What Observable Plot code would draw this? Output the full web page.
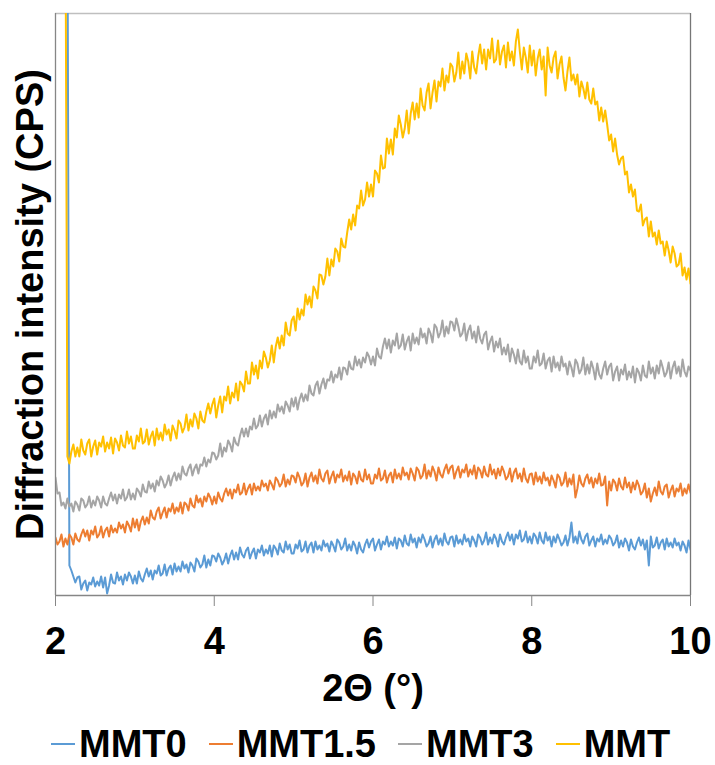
<!DOCTYPE html>
<html>
<head>
<meta charset="utf-8">
<script src="https://cdn.jsdelivr.net/npm/d3@7"></script>
<script src="https://cdn.jsdelivr.net/npm/@observablehq/plot@0.6"></script>
<style>
  html, body { margin: 0; padding: 0; background: #fff; overflow: hidden; }
  #wrap { position: relative; width: 715px; height: 765px; }
  #legend { position: absolute; left: 0; top: 728px; width: 715px; height: 37px;
    display: flex; gap: 22px; padding-left: 51px; box-sizing: border-box;
    font: bold 38px "Liberation Sans", Arial, sans-serif; line-height: 32px; color: #000; }
  .item { display: flex; align-items: center; gap: 4px; white-space: nowrap; height: 32px; }
  .sw { width: 24px; height: 2px; }
</style>
</head>
<body>
<div id="wrap"><div id="chart"></div><div id="legend"></div></div>
<script>
// 2θ grid of the scan: starts at 2°, one reading every 0.025°
const xStart = 2;
const xStep = 0.025;
const xTicks = [2, 4, 6, 8, 10];

const seriesNames = ["MMT0", "MMT1.5", "MMT3", "MMT"];
const seriesColors = ["#5B9BD5", "#ED7D31", "#A5A5A5", "#FFC000"];

// Intensities (arbitrary CPS units, 0 = bottom axis, 582 = top of frame);
// 700 marks the direct-beam rise that runs off the top of the chart. 20 readings per 0.5°.
const mmt0 = [
  700,700,700,700,700,700,700,30,25,19, 13,18,19,6,12,15,5,13,11,18,
  9,14,10,19,8,18,2,10,21,13, 12,23,15,19,11,21,15,23,19,12,
  20,12,24,17,14,21,27,19,25,16, 25,22,30,20,22,31,20,27,30,21,
  32,24,29,24,34,27,31,23,33,30, 24,37,34,28,31,40,28,36,30,40,
  39,34,42,38,31,35,42,32,40,45, 36,43,36,48,41,38,45,48,37,43,
  47,37,46,43,50,40,46,42,50,39, 50,47,41,52,45,43,54,46,51,42,
  42,51,47,55,44,46,54,43,50,53, 43,54,46,50,45,55,49,52,44,54,
  50,44,56,53,46,49,57,45,51,45, 54,50,42,53,46,43,51,56,48,54,
  57,45,51,56,46,54,51,59,49,54, 50,58,47,57,55,49,60,52,50,61,
  53,57,48,58,53,61,56,49,52,59, 48,56,60,51,57,50,62,54,51,58,
  59,49,60,52,56,51,61,54,57,49, 59,55,49,61,58,51,55,63,51,58,
  52,61,57,49,61,54,51,58,63,55, 61,51,61,57,65,54,56,64,53,59,
  52,62,59,52,63,55,52,63,55,59, 49,59,53,61,56,50,53,60,50,58,
  73,53,59,52,64,56,52,59,62,50, 55,59,49,57,54,61,51,56,52,60,
  57,50,53,60,48,55,49,57,53,45, 56,49,46,53,58,50,56,46,55,30,
  59,48,50,58,47,53,56,46,57,49, 53,48,57,50,53,45,54,50,43,55,
  46];

const mmt15 = [
  58,51,54,61,49,57,51,61,58,51, 62,56,54,61,66,59,65,55,65,61,
  69,58,61,69,58,65,68,59,70,63, 67,63,73,67,71,63,74,70,64,77,
  68,76,65,74,79,71,78,72,85,78, 76,84,88,77,83,88,78,87,84,92,
  82,88,84,93,82,93,91,85,97,90, 88,100,93,97,89,99,94,102,98,91,
  99,92,103,97,94,102,107,100,106,97, 106,103,111,101,103,112,101,107,111,101,
  112,105,109,105,115,109,112,105,115,111, 106,118,115,109,112,121,109,116,111,120,
  119,113,123,118,110,113,122,109,118,123, 114,120,112,126,117,114,122,125,112,119,
  124,113,121,118,126,114,120,115,124,111, 122,119,112,124,116,114,126,116,121,112,
  112,121,117,127,115,117,125,113,120,123, 113,126,117,122,116,128,120,123,116,127,
  122,115,128,125,117,120,131,117,125,119, 129,124,115,128,121,118,126,131,122,128,
  130,117,124,129,118,126,123,131,119,126, 121,130,117,128,125,118,129,121,119,131,
  121,126,117,127,120,129,124,116,119,127, 114,123,127,117,122,114,127,117,113,121,
  122,111,123,114,119,112,123,115,118,110, 120,115,108,121,118,110,113,123,109,117,
  111,121,98,107,120,112,109,117,121,112, 118,108,117,112,122,110,111,119,90,114,
  105,116,113,105,117,109,106,118,108,113, 103,113,106,115,110,101,104,112,98,107,
  94,102,108,100,114,104,101,109,111,98, 105,110,99,107,104,112,100,107,102,111,
  103];

const mmt3 = [
  118,102,103,90,93,87,97,89,92,84, 94,91,85,97,95,88,91,99,88,95,
  90,99,95,88,99,92,90,97,103,95, 101,92,101,97,106,95,98,106,96,102,
  96,107,104,99,111,104,103,114,107,112, 104,115,110,119,115,108,112,120,110,118,
  123,115,122,116,129,122,120,127,131,120, 127,131,122,131,130,138,129,136,133,143,
  142,136,140,152,139,148,144,155,151,144, 158,152,150,160,167,159,167,159,169,166,
  177,167,170,180,169,177,181,171,185,177, 184,178,191,184,189,182,194,190,184,197,
  189,198,186,196,202,194,201,195,210,202, 200,210,214,202,211,217,207,216,215,224,
  213,221,218,228,216,228,227,221,234,227, 226,239,230,236,228,238,233,243,239,231,
  239,230,247,239,237,249,257,247,256,243, 255,250,262,247,250,261,246,254,259,245,
  262,252,258,251,267,258,262,252,267,262, 253,271,268,258,263,275,259,269,262,274,
  273,265,277,269,259,262,272,255,265,270, 257,264,253,269,257,252,261,264,246,254,
  259,244,254,248,257,241,248,241,251,234, 247,241,232,246,234,231,245,233,239,227,
  227,239,233,245,230,232,242,227,235,238, 224,239,228,233,225,239,229,232,221,234,
  228,219,236,232,222,226,238,221,231,222, 234,227,216,232,221,217,227,234,221,229,
  232,215,224,229,215,226,221,231,216,224, 218,229,213,227,223,215,230,220,218,234,
  222,228,217,230,222,235,228,219,223,233, 217,228,234,222,229,219,236,224,219,229,
  225];

const mmt = [
  700,700,700,700,700,700,139,132,144,151, 139,148,139,156,145,141,152,156,139,149,
  155,141,153,149,159,144,153,147,158,142, 157,153,145,160,150,148,164,152,159,147,
  147,160,154,167,152,154,166,151,159,164, 150,167,156,163,155,171,161,166,155,170,
  165,157,175,172,163,168,181,165,176,169, 182,177,167,184,175,173,184,192,182,191,
  197,178,190,199,183,199,195,209,192,203, 198,212,195,214,211,204,224,212,212,233,
  221,230,217,235,227,244,238,228,235,250, 233,249,258,247,260,250,273,262,260,275,
  279,265,287,276,286,280,301,291,299,288, 309,305,297,321,320,311,319,337,320,336,
  329,347,344,334,357,349,348,363,376,366, 381,370,390,387,405,390,396,413,399,411,
  399,425,422,413,440,427,428,457,442,456, 441,467,458,480,471,458,467,485,462,482,
  493,476,492,478,507,490,485,503,512,487, 503,515,494,514,509,527,505,520,513,532,
  529,514,523,543,517,534,522,542,534,517, 544,528,522,539,551,532,546,526,546,537,
  557,533,536,555,531,544,550,528,553,535, 544,530,554,566,544,526,548,538,523,550,
  530,545,520,537,546,526,539,500,548,530, 523,538,544,517,531,539,518,505,524,538,
  515,521,511,521,499,514,507,497,513,496, 492,507,491,494,475,488,474,485,471,455,
  461,444,457,441,431,437,439,421,424,403, 411,399,406,385,384,391,370,376,378,359,
  374,359,363,351,365,352,354,340,354,345, 333,349,342,329,331,342,320,328,316,327,
  312];

const seriesValues = [mmt0, mmt15, mmt3, mmt];

const rows = seriesNames.flatMap((name, k) =>
  seriesValues[k].map((v, i) => ({ name, x: xStart + i * xStep, y: v })));

const font = '"Liberation Sans", Arial, sans-serif';

const chart = Plot.plot({
  width: 715,
  height: 728,
  marginLeft: 55,
  marginRight: 25,
  marginTop: 13,
  marginBottom: 133,
  style: { fontFamily: font, background: "#fff", overflow: "visible" },
  x: { domain: [2, 10], axis: null },
  y: { domain: [0, 582], axis: null },
  marks: [
    Plot.ruleY([582], { stroke: "#bfbfbf", strokeWidth: 1.3 }),
    Plot.ruleX([10], { stroke: "#767676", strokeWidth: 1.3 }),
    ...seriesNames.map((name, k) =>
      Plot.line(rows.filter(d => d.name === name), {
        x: "x", y: "y", stroke: seriesColors[k], strokeWidth: 2, clip: true
      })),
    Plot.ruleX([2], { stroke: "#868686", strokeWidth: 1.3 }),
    Plot.ruleY([0], { stroke: "#868686", strokeWidth: 1.3 }),
    Plot.axisX({
      ticks: xTicks, tickSize: 11, tickPadding: 21, label: null,
      stroke: "#868686", fill: "#000", fontSize: 38, fontWeight: "bold"
    }),
    Plot.text(["2Θ (°)"], {
      frameAnchor: "bottom", dy: 93, lineAnchor: "middle", textAnchor: "middle",
      fontSize: 38, fontWeight: "bold", fill: "#000"
    }),
    Plot.text(["Diffraction intensity (CPS)"], {
      frameAnchor: "left", rotate: -90, dx: -25, lineAnchor: "middle", textAnchor: "middle",
      fontSize: 38, fontWeight: "bold", fill: "#000"
    })
  ]
});
document.getElementById("chart").appendChild(chart);

const legend = document.getElementById("legend");
seriesNames.forEach((name, k) => {
  const item = document.createElement("div");
  item.className = "item";
  const sw = document.createElement("span");
  sw.className = "sw";
  sw.style.background = seriesColors[k];
  const t = document.createElement("span");
  t.textContent = name;
  item.appendChild(sw);
  item.appendChild(t);
  legend.appendChild(item);
});
</script>
</body>
</html>
